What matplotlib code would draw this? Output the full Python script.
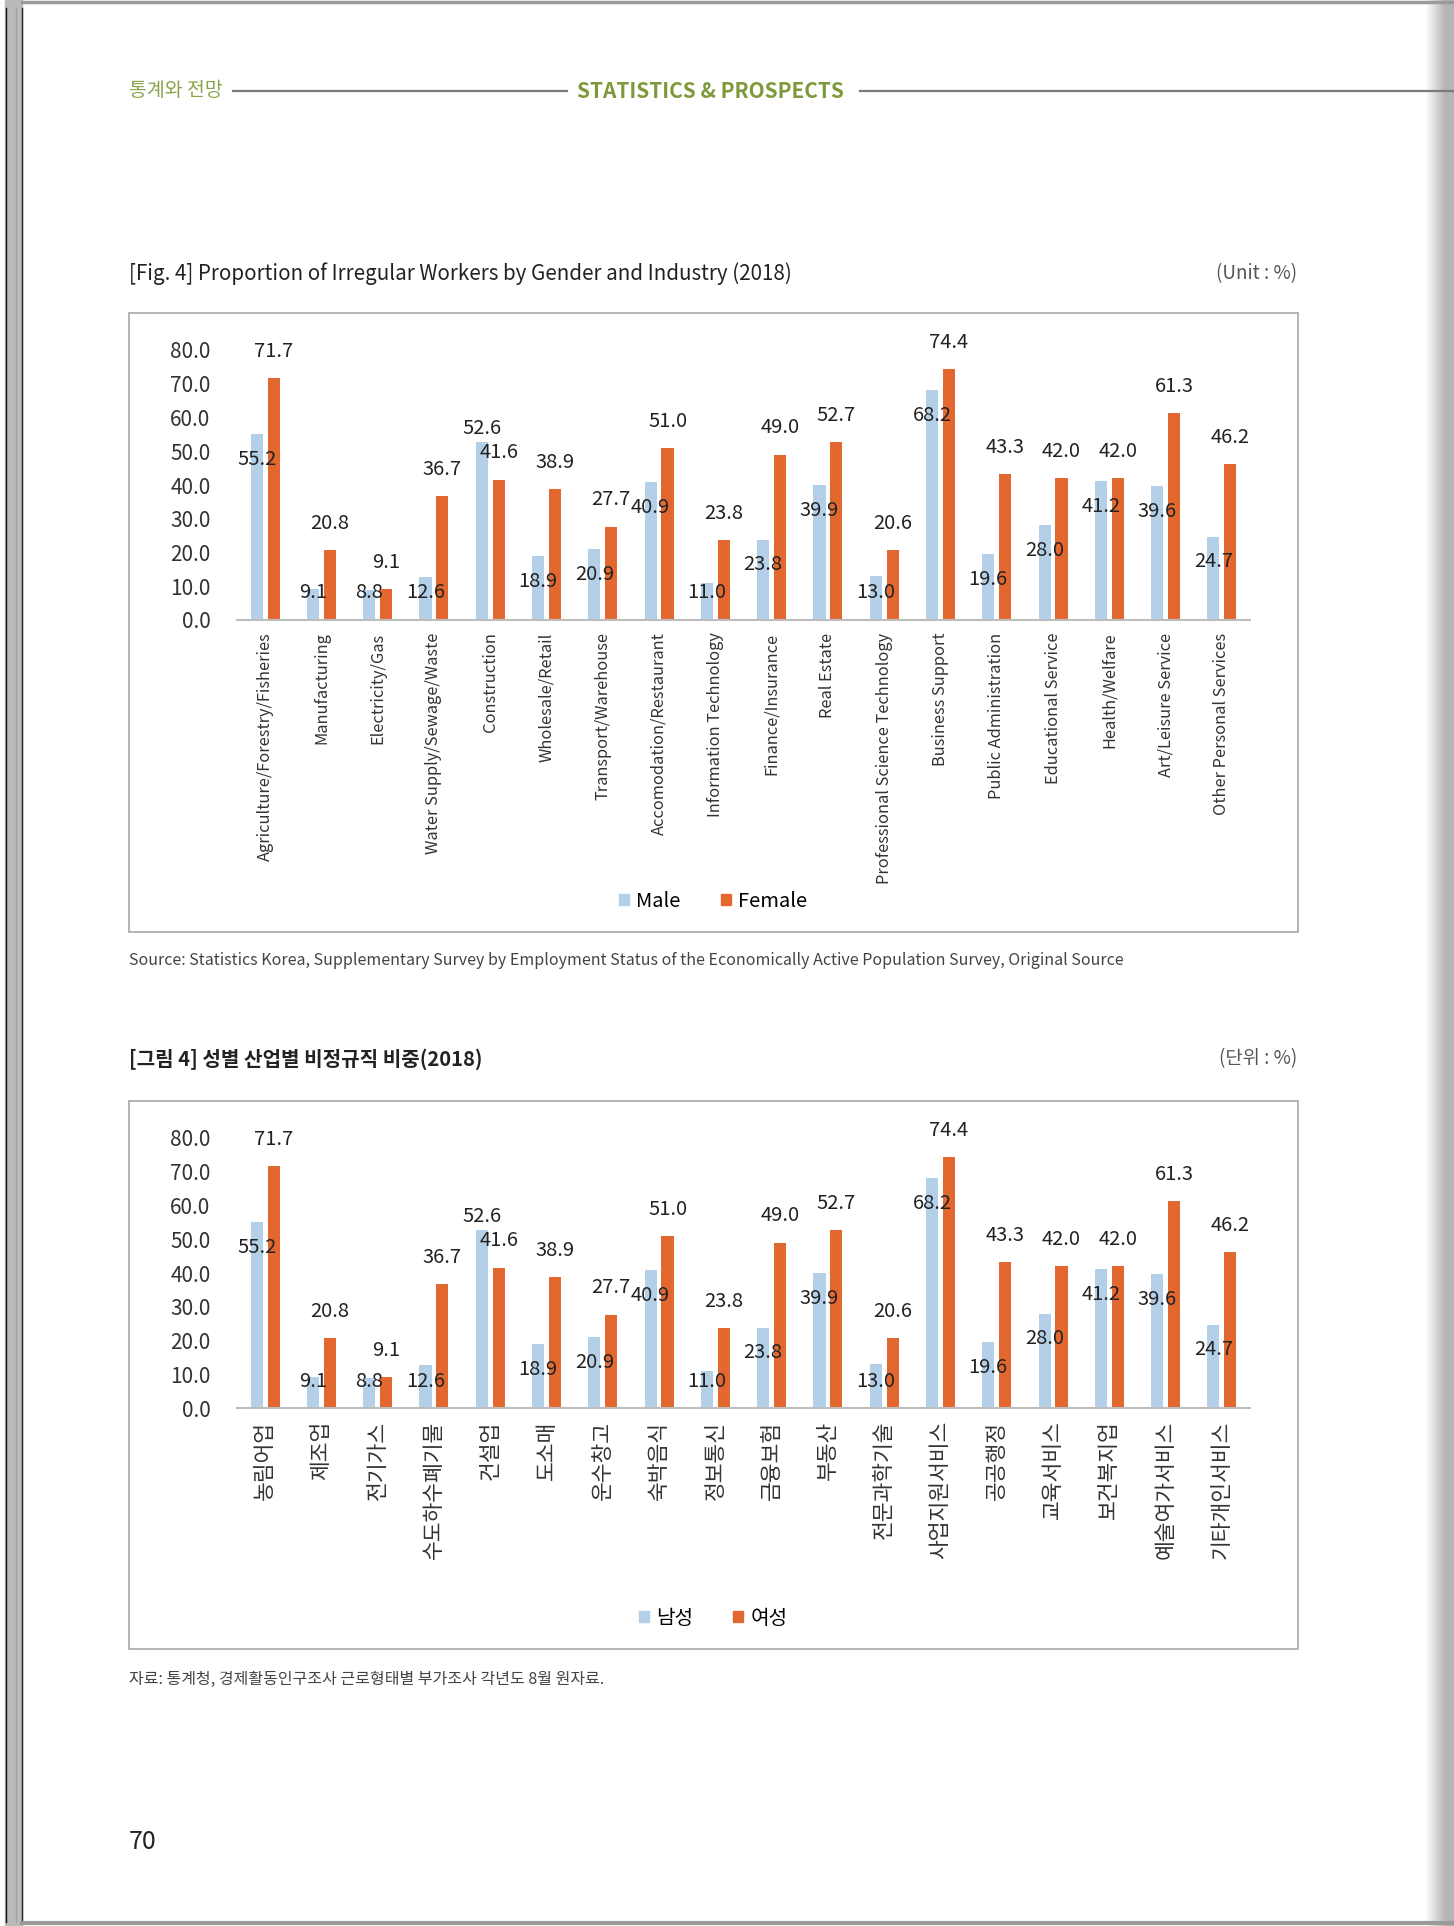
import matplotlib
matplotlib.use('Agg')
import matplotlib.pyplot as plt
from matplotlib.patches import Rectangle, Patch
from matplotlib.lines import Line2D
import numpy as np

plt.rcParams['font.family'] = ['Noto Sans CJK KR', 'DejaVu Sans']

industries_en = ['Agriculture/Forestry/Fisheries', 'Manufacturing', 'Electricity/Gas',
                 'Water Supply/Sewage/Waste', 'Construction', 'Wholesale/Retail',
                 'Transport/Warehouse', 'Accomodation/Restaurant', 'Information Technology',
                 'Finance/Insurance', 'Real Estate', 'Professional Science Technology',
                 'Business Support', 'Public Administration', 'Educational Service',
                 'Health/Welfare', 'Art/Leisure Service', 'Other Personal Services']
industries_ko = ['농림어업', '제조업', '전기가스', '수도하수폐기물', '건설업', '도소매',
                 '운수창고', '숙박음식', '정보통신', '금융보험', '부동산', '전문과학기술',
                 '사업지원서비스', '공공행정', '교육서비스', '보건복지업', '예술여가서비스',
                 '기타개인서비스']
male = [55.2, 9.1, 8.8, 12.6, 52.6, 18.9, 20.9, 40.9, 11.0, 23.8, 39.9, 13.0,
        68.2, 19.6, 28.0, 41.2, 39.6, 24.7]
female = [71.7, 20.8, 9.1, 36.7, 41.6, 38.9, 27.7, 51.0, 23.8, 49.0, 52.7, 20.6,
          74.4, 43.3, 42.0, 42.0, 61.3, 46.2]
yticks = [0, 10, 20, 30, 40, 50, 60, 70, 80]

W, H = 1454, 1926
fig = plt.figure(figsize=(W / 100, H / 100), dpi=100)


def fx(x):
    return x / W


def fy(y):
    return 1 - y / H


MALE_C = '#B4D0E8'
FEMALE_C = '#E2682F'
TXT = '#222222'


def draw_chart(zero_px, labels, label_size, names, box_top, box_bottom, legend_y):
    # рамка вокруг графика
    fig.add_artist(Rectangle((fx(129), fy(box_bottom)), fx(1298) - fx(129),
                             (box_bottom - box_top) / H, transform=fig.transFigure,
                             fill=False, edgecolor='#a8a8a8', linewidth=1.2))
    ax = fig.add_axes([fx(237), fy(zero_px), fx(1250) - fx(237), 270 / H])
    x = np.arange(len(labels))
    ax.bar(x - 0.15, male, 0.215, color=MALE_C)
    ax.bar(x + 0.15, female, 0.215, color=FEMALE_C)
    ax.set_xlim(-0.5, len(labels) - 0.5)
    ax.set_ylim(0, 80)
    for s in ('left', 'top', 'right'):
        ax.spines[s].set_visible(False)
    ax.spines['bottom'].set_color('#bdbdbd')
    ax.spines['bottom'].set_linewidth(1.5)
    ax.set_yticks(yticks)
    ax.set_yticklabels([f'{v:.1f}' for v in yticks])
    ax.tick_params(axis='y', length=0, pad=19, labelsize=15, labelcolor='#333333')
    ax.set_xticks(x)
    ax.set_xticklabels(labels, rotation=90, va='top', ha='center')
    ax.tick_params(axis='x', length=0, pad=9, labelsize=label_size, labelcolor='#333333')
    ax.patch.set_alpha(0)

    for i in x:
        m, f = male[i], female[i]
        my = m + 4 if m > f else max(m - 7.5, 8)
        ax.text(i - 0.15, my, f'{m:.1f}', ha='center', va='center',
                fontsize=14.5, color=TXT)
        ax.text(i + 0.15, f + 7.9, f'{f:.1f}', ha='center', va='center',
                fontsize=14.5, color=TXT)

    handles = [Patch(color=MALE_C, label=names[0]), Patch(color=FEMALE_C, label=names[1])]
    fig.legend(handles=handles, loc='center', bbox_to_anchor=(fx(713), fy(legend_y)),
               ncol=2, frameon=False, handlelength=0.5, handleheight=0.5,
               handletextpad=0.35, columnspacing=2.0, fontsize=14.5)
    return ax


# оформление страницы
fig.add_artist(Rectangle((fx(5), 0), fx(22) - fx(5), 1, transform=fig.transFigure,
                         color='#bababa', zorder=0))
for xx, c in ((6, '#111111'), (16, '#a0a0a0'), (22, '#222222')):
    fig.add_artist(Line2D([fx(xx), fx(xx)], [fy(1922), fy(8)], transform=fig.transFigure,
                          color=c, lw=1))
g_ax = fig.add_axes([fx(1425), 0, fx(1454) - fx(1425), 1])
grad = np.concatenate([np.linspace(1.0, 0.72, 20), np.full(9, 0.71)])[None, :]
g_ax.imshow(grad, cmap='gray', vmin=0, vmax=1, aspect='auto', extent=(0, 1, 0, 1))
g_ax.axis('off')
fig.add_artist(Line2D([fx(22), 1], [fy(2.5), fy(2.5)], transform=fig.transFigure,
                      color='#9a9a9a', lw=2.5))
fig.add_artist(Line2D([fx(22), 1], [fy(1923), fy(1923)], transform=fig.transFigure,
                      color='#9a9a9a', lw=3))

# шапка
fig.text(fx(129), fy(91), '통계와 전망', color='#8aa44c', fontsize=14, va='center')
fig.text(fx(577), fy(91), 'STATISTICS & PROSPECTS', color='#7d9a3a', fontsize=15,
         fontweight='bold', va='center')
fig.add_artist(Line2D([fx(233), fx(567)], [fy(91), fy(91)], transform=fig.transFigure,
                      color='#7a7a7a', lw=1.6))
fig.add_artist(Line2D([fx(860), 1], [fy(91), fy(91)], transform=fig.transFigure,
                      color='#7a7a7a', lw=1.6))

# первый график
fig.text(fx(129), fy(274), '[Fig. 4] Proportion of Irregular Workers by Gender and Industry (2018)',
         fontsize=14.8, color=TXT, va='center')
fig.text(fx(1297), fy(274), '(Unit : %)', fontsize=13.5, color='#555555', va='center', ha='right')
draw_chart(620, industries_en, 11.8, ('Male', 'Female'), 313, 932, 901)
fig.text(fx(129), fy(960), 'Source: Statistics Korea, Supplementary Survey by Employment Status '
         'of the Economically Active Population Survey, Original Source',
         fontsize=11.5, color='#444444', va='center')

# второй график
fig.text(fx(129), fy(1059), '[그림 4] 성별 산업별 비정규직 비중(2018)', fontsize=14.5,
         fontweight='bold', color=TXT, va='center')
fig.text(fx(1297), fy(1059), '(단위 : %)', fontsize=13.5, color='#555555', va='center', ha='right')
draw_chart(1408, industries_ko, 15.5, ('남성', '여성'), 1101, 1649, 1618)
fig.text(fx(129), fy(1679), '자료: 통계청, 경제활동인구조사 근로형태별 부가조사 각년도 8월 원자료.',
         fontsize=11.5, color='#444444', va='center')

fig.text(fx(129), fy(1842), '70', fontsize=18, color=TXT, va='center')

fig.savefig('out.png', dpi=100)
